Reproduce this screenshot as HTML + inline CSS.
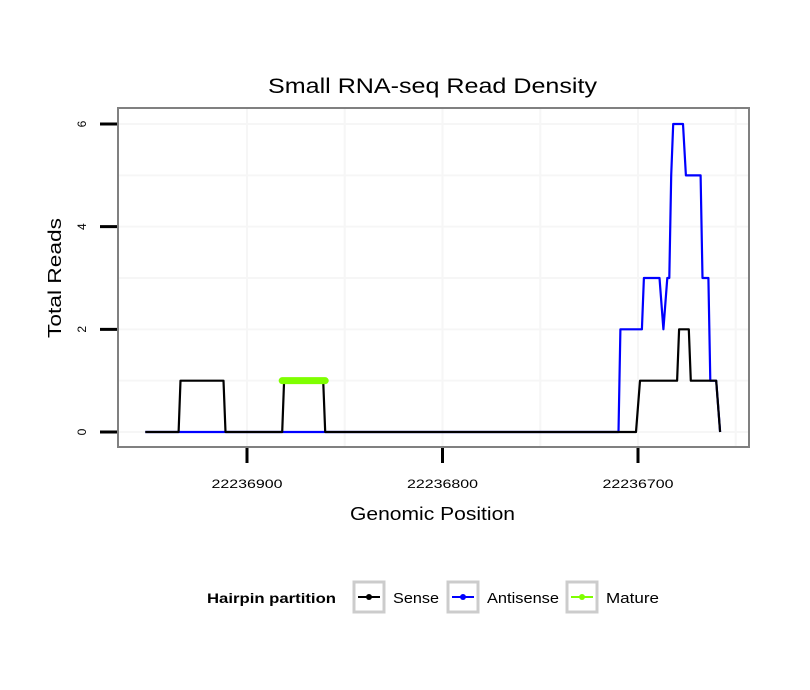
<!DOCTYPE html>
<html><head><meta charset="utf-8"><style>
body{margin:0;background:#fff;}
svg{display:block;font-family:"Liberation Sans",sans-serif;}
</style></head><body>
<svg id="chart" width="810" height="690" viewBox="0 0 810 690">
<rect width="810" height="690" fill="#fff"/>
<text x="268" y="93" font-size="21" textLength="329" lengthAdjust="spacingAndGlyphs">Small RNA-seq Read Density</text>
<g id="grid"></g>
<g id="series"></g>
<rect x="118" y="108" width="631" height="339" fill="none" stroke="#808080" stroke-width="2"/>
<g id="axes"></g>
<text x="350" y="520" font-size="18" textLength="165" lengthAdjust="spacingAndGlyphs">Genomic Position</text>
<text transform="translate(61,338) rotate(-90)" font-size="18" textLength="120" lengthAdjust="spacingAndGlyphs">Total Reads</text>
<g>
<text x="207" y="603" font-size="14" font-weight="bold" textLength="129" lengthAdjust="spacingAndGlyphs">Hairpin partition</text>
<g><rect x="354" y="582" width="30" height="30" fill="#fff" stroke="#ccc" stroke-width="3"/><line x1="358" y1="597" x2="380" y2="597" stroke="#000" stroke-width="2"/><circle cx="369" cy="597" r="3" fill="#000"/><text x="393" y="603" font-size="15" textLength="46" lengthAdjust="spacingAndGlyphs">Sense</text></g>
<g><rect x="448" y="582" width="30" height="30" fill="#fff" stroke="#ccc" stroke-width="3"/><line x1="452" y1="597" x2="474" y2="597" stroke="#00f" stroke-width="2"/><circle cx="463" cy="597" r="3" fill="#00f"/><text x="487" y="603" font-size="15" textLength="72" lengthAdjust="spacingAndGlyphs">Antisense</text></g>
<g><rect x="567" y="582" width="30" height="30" fill="#fff" stroke="#ccc" stroke-width="3"/><line x1="571" y1="597" x2="593" y2="597" stroke="#7fff00" stroke-width="2"/><circle cx="582" cy="597" r="3" fill="#7fff00"/><text x="606" y="603" font-size="15" textLength="53" lengthAdjust="spacingAndGlyphs">Mature</text></g>
</g>
</svg>
<script>
const xTicks=[22236900,22236800,22236700];
const xMinor=[22236850,22236750,22236650];
const yTicks=[0,2,4,6];
const yMinor=[1,3,5];
const senseX=[22236952,22236935,22236934,22236912,22236911,22236882,22236881,22236861,22236860,22236701,22236699,22236680,22236679,22236674,22236673,22236660,22236658];
const senseY=[0,0,1,1,0,0,1,1,0,0,1,1,2,2,1,1,0];
const antiX=[22236952,22236710,22236709,22236698,22236697,22236689,22236687,22236685,22236684,22236683,22236682,22236677,22236675.5,22236668,22236667,22236664,22236663,22236660,22236658];
const antiY=[0,0,2,2,3,3,2,3,3,5,6,6,5,5,3,3,1,1,0];
const matureX=[22236882,22236860];
const matureY=[1,1];
const NS="http://www.w3.org/2000/svg";
function sx(p){return 247+(22236900-p)*1.955;}
function sy(v){return 432-v*51.33;}
function mk(tag,attrs,parent){const e=document.createElementNS(NS,tag);for(const k in attrs)e.setAttribute(k,attrs[k]);parent.appendChild(e);return e;}
const grid=document.getElementById('grid'),series=document.getElementById('series'),axes=document.getElementById('axes');
xTicks.concat(xMinor).forEach(p=>{const l=mk('line',{x1:sx(p),x2:sx(p),y1:109,y2:446,stroke:'#f6f6f6','stroke-width':2},grid);

});
yTicks.concat(yMinor).forEach(v=>{const l=mk('line',{x1:119,x2:748,y1:sy(v),y2:sy(v),stroke:'#f6f6f6','stroke-width':2},grid);

});
function path(xs,ys,color,name){let d=xs.map((p,i)=>(i?'L':'M')+sx(p).toFixed(1)+','+sy(ys[i]).toFixed(1)).join('');
const e=mk('path',{d:d,fill:'none',stroke:color,'stroke-width':2.2,'stroke-linejoin':'round'},series);

}
path(antiX,antiY,'#0000ff','antisense-line');
path(senseX,senseY,'#000000','sense-line');
const m=mk('line',{x1:sx(matureX[0]),x2:sx(matureX[1]),y1:sy(matureY[0]),y2:sy(matureY[1]),stroke:'#7fff00','stroke-width':7,'stroke-linecap':'round'},series);


xTicks.forEach(p=>{const t=mk('line',{x1:sx(p),x2:sx(p),y1:448,y2:463,stroke:'#000','stroke-width':3},axes);


const tx=mk('text',{x:sx(p)-35.5,y:488,'font-size':12,textLength:71,lengthAdjust:'spacingAndGlyphs'},axes);tx.textContent=p;

});
yTicks.forEach(v=>{const t=mk('line',{x1:100,x2:117,y1:sy(v),y2:sy(v),stroke:'#000','stroke-width':3},axes);


const tx=mk('text',{transform:'translate(86,'+sy(v)+') rotate(-90)','font-size':12,'text-anchor':'middle'},axes);tx.textContent=v;

});
</script>
</body></html>
